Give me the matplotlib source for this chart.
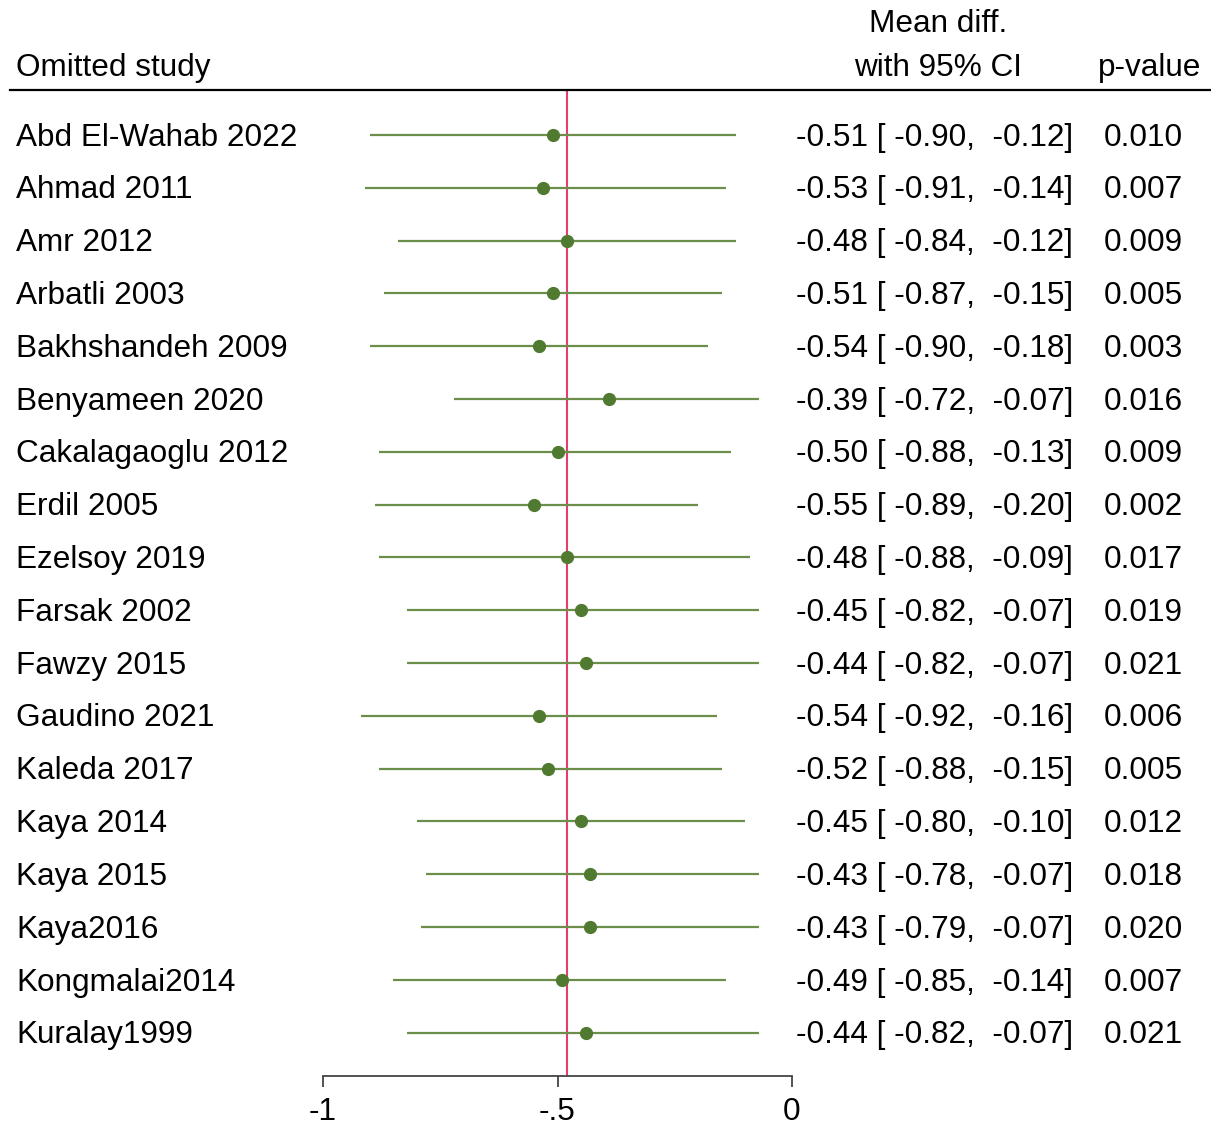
import numpy as np
import matplotlib.pyplot as plt

studies = ["Abd El-Wahab 2022", "Ahmad 2011", "Amr 2012", "Arbatli 2003",
           "Bakhshandeh 2009", "Benyameen 2020", "Cakalagaoglu 2012", "Erdil 2005",
           "Ezelsoy 2019", "Farsak 2002", "Fawzy 2015", "Gaudino 2021",
           "Kaleda 2017", "Kaya 2014", "Kaya 2015", "Kaya2016",
           "Kongmalai2014", "Kuralay1999"]
est = [-0.51, -0.53, -0.48, -0.51, -0.54, -0.39, -0.50, -0.55, -0.48,
       -0.45, -0.44, -0.54, -0.52, -0.45, -0.43, -0.43, -0.49, -0.44]
lo = [-0.90, -0.91, -0.84, -0.87, -0.90, -0.72, -0.88, -0.89, -0.88,
      -0.82, -0.82, -0.92, -0.88, -0.80, -0.78, -0.79, -0.85, -0.82]
hi = [-0.12, -0.14, -0.12, -0.15, -0.18, -0.07, -0.13, -0.20, -0.09,
      -0.07, -0.07, -0.16, -0.15, -0.10, -0.07, -0.07, -0.14, -0.07]
pval = ["0.010", "0.007", "0.009", "0.005", "0.003", "0.016", "0.009", "0.002",
        "0.017", "0.019", "0.021", "0.006", "0.005", "0.012", "0.018", "0.020",
        "0.007", "0.021"]
overall = -0.48
xticks = [-1, -0.5, 0]
xticklabels = ["-1", "-.5", "0"]

plt.rcParams['font.family'] = ['Liberation Sans', 'DejaVu Sans']
FS = 22.7
W, H = 1211, 1126

fig = plt.figure(figsize=(W / 100, H / 100), dpi=100)
# plot panel: x from px 323 to 792, y from px 90 to 1076
ax = fig.add_axes([323 / W, 1 - 1076 / H, (792 - 323) / W, (1076 - 90) / H])
n = len(studies)
y = np.arange(n, 0, -1)
ax.set_xlim(-1, 0)
ax.set_ylim(0.18, n + 0.85)

line_col = "#6b8f4a"
dot_col = "#507a30"
ax.hlines(y, lo, hi, color=line_col, lw=1.6, zorder=2)
ax.plot(est, y, 'o', color=dot_col, ms=8.5, zorder=3)
ax.axvline(overall, color="#e0406a", lw=1.5, zorder=1)

for s in ['top', 'right', 'left']:
    ax.spines[s].set_visible(False)
ax.spines['bottom'].set_bounds(-1, 0)
ax.spines['bottom'].set_color("#444444")
ax.spines['bottom'].set_linewidth(1.3)
ax.set_yticks([])
ax.set_xticks(xticks)
ax.set_xticklabels(xticklabels)
ax.tick_params(axis='x', length=8, width=1.3, color="#444444", labelsize=FS, pad=7)

def fx(px):
    return (px - 323) / (792 - 323) - 1  # pixel x -> data x

ty = y - 0.05  # small nudge so caps sit centred on the CI line
for i in range(n):
    ax.text(fx(16), ty[i], studies[i], fontsize=FS, va='center', ha='left', clip_on=False)
    ax.text(fx(1073), ty[i], f"{est[i]:.2f} [ {lo[i]:.2f},  {hi[i]:.2f}]",
            fontsize=FS, va='center', ha='right', clip_on=False)
    ax.text(fx(1104), ty[i], pval[i], fontsize=FS, va='center', ha='left', clip_on=False)

# header
fig.text(16 / W, 1 - 68 / H, "Omitted study", fontsize=FS, va='center', ha='left')
fig.text(938 / W, 1 - 24 / H, "Mean diff.", fontsize=FS, va='center', ha='center')
fig.text(938 / W, 1 - 68 / H, "with 95% CI", fontsize=FS, va='center', ha='center')
fig.text(1201 / W, 1 - 68 / H, "p-value", fontsize=FS, va='center', ha='right')
fig.add_artist(plt.Line2D([10 / W, 1], [1 - 90 / H, 1 - 90 / H], color='black', lw=1.6))

fig.savefig("out.png", dpi=100)
